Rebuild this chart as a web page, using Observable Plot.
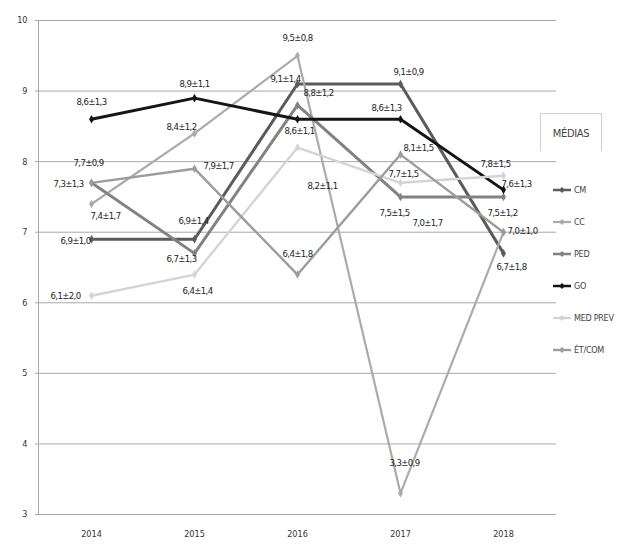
<!DOCTYPE html>
<html>
<head>
<meta charset="utf-8">
<script src="https://cdn.jsdelivr.net/npm/d3@7"></script>
<script src="https://cdn.jsdelivr.net/npm/@observablehq/plot@0.6"></script>
<style>
  body { margin: 0; background: #fff; }
  #wrap { position: relative; width: 622px; height: 547px; overflow: hidden; font-family: "Liberation Sans Narrow", "DejaVu Sans Condensed", "Liberation Sans", sans-serif; }
  #chart svg g[aria-label="text"] text { letter-spacing: -0.6px; }
  #legend { position: absolute; left: 540px; top: 113px; width: 70px; }
  #legend .title { width: 62px; height: 38px; border: 1px solid #d0d0d0; border-bottom: none; box-sizing: border-box; font-size: 11px; color: #444; text-align: center; line-height: 40px; letter-spacing: -0.3px; }
  #legend .item { position: absolute; left: 12px; height: 12px; display: flex; align-items: center; font-size: 9px; color: #444; white-space: nowrap; letter-spacing: -0.3px; }
  #legend .item svg { margin-right: 2px; }
</style>
</head>
<body>
<div id="wrap"><div id="chart"></div><div id="legend"></div></div>
<script>
// ---- data ----
const years = ["2014", "2015", "2016", "2017", "2018"];
const seriesNames = ["CM", "CC", "PED", "GO", "MED PREV", "ÉT/COM"];
const yTicks = [3, 4, 5, 6, 7, 8, 9, 10];

const cm      = [6.9, 6.9, 9.1, 9.1, 6.7];
const cc      = [7.4, 8.4, 9.5, 3.3, 7.0];
const ped     = [7.7, 6.7, 8.8, 7.5, 7.5];
const go      = [8.6, 8.9, 8.6, 8.6, 7.6];
const medPrev = [6.1, 6.4, 8.2, 7.7, 7.8];
const etCom   = [7.7, 7.9, 6.4, 8.1, 7.0];

const cmLabels      = ["6,9±1,0", "6,9±1,4", "9,1±1,4", "9,1±0,9", "6,7±1,8"];
const ccLabels      = ["7,4±1,7", "8,4±1,2", "9,5±0,8", "3,3±0,9", "7,0±1,7"];
const pedLabels     = ["7,3±1,3", "6,7±1,3", "8,8±1,2", "7,5±1,5", "7,5±1,2"];
const goLabels      = ["8,6±1,3", "8,9±1,1", "8,6±1,1", "8,6±1,3", "7,6±1,3"];
const medPrevLabels = ["6,1±2,0", "6,4±1,4", "8,2±1,1", "7,7±1,5", "7,8±1,5"];
const etComLabels   = ["7,7±0,9", "7,9±1,7", "6,4±1,8", "8,1±1,5", "7,0±1,0"];

// ---- layout / style (not data) ----
const styles = {
  "CM":       { color: "#5b5b5b", width: 3 },
  "CC":       { color: "#ababab", width: 2.2 },
  "PED":      { color: "#828282", width: 3 },
  "GO":       { color: "#151515", width: 3 },
  "MED PREV": { color: "#d4d4d4", width: 2.4 },
  "ÉT/COM":   { color: "#9c9c9c", width: 2.4 }
};
const labelOffsets = {
  "CM":       [[-16, 2], [-1, -18], [-12, -5], [8, -12], [8, 14]],
  "CC":       [[14, 12], [-13, -6], [0, -18], [4, -30], [-76, -9]],
  "PED":      [[-23, 1], [-13, 6], [21, -12], [-6, 16], [-1, 16]],
  "GO":       [[0, -17], [0, -14], [2, 12], [-14, -11], [13, -6]],
  "MED PREV": [[-26, 0], [3, 16], [25, 38], [3, -9], [-8, -12]],
  "ÉT/COM":   [[-3, -20], [24, -3], [0, -21], [18, -7], [19, -1]]
};

const valuesBySeries = { "CM": cm, "CC": cc, "PED": ped, "GO": go, "MED PREV": medPrev, "ÉT/COM": etCom };
const labelsBySeries = { "CM": cmLabels, "CC": ccLabels, "PED": pedLabels, "GO": goLabels, "MED PREV": medPrevLabels, "ÉT/COM": etComLabels };

const rows = [];
for (const s of seriesNames) {
  years.forEach((yr, i) => rows.push({ series: s, year: yr, value: valuesBySeries[s][i], label: labelsBySeries[s][i], off: labelOffsets[s][i] }));
}

const font = "'Liberation Sans Narrow', 'DejaVu Sans Condensed', 'Liberation Sans', sans-serif";

const marks = [
  Plot.gridY(yTicks, { stroke: "#a8a8a8", strokeOpacity: 1, strokeWidth: 1 }),
  Plot.frame({ anchor: "left", stroke: "#a8a8a8" }),
  Plot.axisY(yTicks, { tickSize: 3, tickPadding: 8, fontSize: 9, fill: "#333", stroke: "#a8a8a8", label: null, tickFormat: d => String(d) }),
  Plot.axisX({ tickSize: 0, tickPadding: 16, fontSize: 9, fill: "#333", label: null })
];
for (const s of seriesNames) {
  const data = rows.filter(r => r.series === s);
  marks.push(Plot.line(data, { x: "year", y: "value", stroke: styles[s].color, strokeWidth: styles[s].width, strokeLinejoin: "miter" }));
  marks.push(Plot.dot(data, { x: "year", y: "value", symbol: "diamond", r: 2.6, fill: styles[s].color, stroke: "none" }));
}
for (const r of rows) {
  marks.push(Plot.text([r], { x: "year", y: "value", text: "label", dx: r.off[0], dy: r.off[1], fontSize: 9.5, fill: "#222", fontFamily: font, textAnchor: "middle" }));
}

const chart = Plot.plot({
  width: 622,
  height: 547,
  marginLeft: 38,
  marginRight: 66,
  marginTop: 20,
  marginBottom: 33,
  style: { fontFamily: font, background: "#fff" },
  x: { type: "point", domain: years, padding: 0.5, axis: null },
  y: { domain: [3, 10], axis: null },
  marks
});
document.getElementById("chart").appendChild(chart);

// legend
const legend = document.getElementById("legend");
const title = document.createElement("div");
title.className = "title";
title.textContent = "MÉDIAS";
legend.appendChild(title);
seriesNames.forEach((s, i) => {
  const item = document.createElement("div");
  item.className = "item";
  item.style.top = (71 + i * 32) + "px";
  const st = styles[s];
  item.innerHTML = `<svg width="20" height="10"><line x1="1" y1="5" x2="19" y2="5" stroke="${st.color}" stroke-width="${Math.min(st.width, 2.5)}"/><path d="M10,2 L13,5 L10,8 L7,5Z" fill="${st.color}"/></svg><span>${s}</span>`;
  legend.appendChild(item);
});
</script>
</body>
</html>
